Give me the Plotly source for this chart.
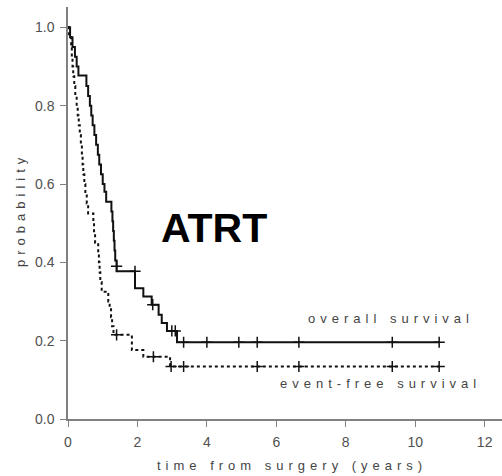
import plotly.graph_objects as go

# Overall survival (Kaplan-Meier step points)
os_time = [0, 0.06, 0.13, 0.20, 0.25, 0.30, 0.53, 0.58, 0.63, 0.67, 0.71, 0.76, 0.81, 0.86,
           0.90, 0.95, 1.00, 1.05, 1.10, 1.25, 1.28, 1.30, 1.32, 1.34, 1.36, 1.40, 1.93,
           2.17, 2.41, 2.61, 2.70, 2.85, 3.14, 10.69]
os_surv = [1.0, 0.975, 0.95, 0.925, 0.90, 0.877, 0.85, 0.825, 0.80, 0.775, 0.75, 0.725, 0.70,
           0.675, 0.65, 0.625, 0.60, 0.58, 0.555, 0.53, 0.505, 0.48, 0.455, 0.43, 0.405,
           0.377, 0.334, 0.313, 0.292, 0.266, 0.245, 0.225, 0.196, 0.196]
os_cens_time = [1.40, 1.93, 2.44, 2.99, 3.09, 3.33, 4.00, 4.92, 5.45, 6.65, 9.34, 10.69]
os_cens_surv = [0.39, 0.377, 0.292, 0.225, 0.225, 0.196, 0.196, 0.196, 0.196, 0.196, 0.196, 0.196]

# Event-free survival
efs_time = [0, 0.03, 0.09, 0.11, 0.13, 0.15, 0.18, 0.21, 0.25, 0.28, 0.31, 0.34, 0.37, 0.40,
            0.42, 0.44, 0.47, 0.50, 0.54, 0.58, 0.73, 0.75, 0.78, 0.87, 0.89, 0.91, 0.93,
            0.97, 1.16, 1.20, 1.24, 1.27, 1.31, 1.84, 2.17, 2.94, 10.69]
efs_surv = [1.0, 0.975, 0.95, 0.925, 0.90, 0.875, 0.85, 0.825, 0.80, 0.775, 0.75, 0.725,
            0.70, 0.675, 0.65, 0.625, 0.60, 0.575, 0.55, 0.525, 0.50, 0.475, 0.45, 0.425,
            0.40, 0.375, 0.35, 0.325, 0.30, 0.28, 0.26, 0.237, 0.215, 0.176, 0.159, 0.134, 0.134]
efs_cens_time = [1.40, 2.46, 2.97, 3.33, 5.45, 6.65, 9.34, 10.69]
efs_cens_surv = [0.215, 0.159, 0.134, 0.134, 0.134, 0.134, 0.134, 0.134]

x_ticks = [0, 2, 4, 6, 8, 10, 12]
y_ticks = [0.0, 0.2, 0.4, 0.6, 0.8, 1.0]
y_tick_labels = ["0.0", "0.2", "0.4", "0.6", "0.8", "1.0"]

AXIS_GRAY = "#808080"
TEXT_GRAY = "#505050"
LINE = "#111111"
SP = "letter-spacing:5px"

fig = go.Figure()
fig.add_trace(go.Scatter(x=efs_time, y=efs_surv, mode="lines", line_shape="hv",
                         line=dict(color=LINE, width=2, dash="dot"), hoverinfo="skip"))
fig.add_trace(go.Scatter(x=os_time, y=os_surv, mode="lines", line_shape="hv",
                         line=dict(color=LINE, width=2), hoverinfo="skip"))
for ct, cs in ((efs_cens_time, efs_cens_surv), (os_cens_time, os_cens_surv)):
    fig.add_trace(go.Scatter(x=ct, y=cs, mode="markers",
                             marker=dict(symbol="cross-thin-open", size=8, color=LINE,
                                         line=dict(color=LINE, width=1.5)),
                             hoverinfo="skip"))

fig.update_layout(
    width=502, height=476,
    margin=dict(l=68, r=0, t=7, b=57),
    paper_bgcolor="white", plot_bgcolor="white",
    showlegend=False,
    font=dict(family="Arial, Liberation Sans, sans-serif", color=TEXT_GRAY, size=14),
    xaxis=dict(range=[0, 12.5], tickvals=x_ticks, ticks="outside", ticklen=6,
               tickcolor=AXIS_GRAY, showline=True, linecolor=AXIS_GRAY, linewidth=1.5,
               showgrid=False, zeroline=False, ticklabelstandoff=3,
               tickfont=dict(size=14, color=TEXT_GRAY)),
    yaxis=dict(range=[0, 1.052], tickvals=y_ticks, ticktext=y_tick_labels, ticks="outside",
               ticklen=6, tickcolor=AXIS_GRAY, showline=True, linecolor=AXIS_GRAY,
               linewidth=1.5, showgrid=False, zeroline=False, ticklabelstandoff=3,
               tickfont=dict(size=14, color=TEXT_GRAY)),
)

fig.add_annotation(text="<b>ATRT</b>", x=0.336, y=0.4636, xref="paper", yref="paper",
                   showarrow=False, xanchor="center", yanchor="middle",
                   font=dict(size=41, color="#000000", family="Arial, Liberation Sans, sans-serif"))
fig.add_annotation(text=f"<span style='{SP}'>overall survival</span>", x=0.548, y=0.245,
                   xref="paper", yref="paper", showarrow=False, xanchor="left", yanchor="middle",
                   font=dict(size=13, color="#444444"))
fig.add_annotation(text=f"<span style='{SP}'>event-free survival</span>", x=0.484, y=0.085,
                   xref="paper", yref="paper", showarrow=False, xanchor="left", yanchor="middle",
                   font=dict(size=13, color="#444444"))
fig.add_annotation(text=f"<span style='{SP}'>time from surgery (years)</span>", x=0.516, y=-0.112,
                   xref="paper", yref="paper", showarrow=False, xanchor="center", yanchor="middle",
                   font=dict(size=13, color="#444444"))
fig.add_annotation(text=f"<span style='{SP}'>probability</span>", x=-0.111, y=0.507,
                   xref="paper", yref="paper", showarrow=False, xanchor="center", yanchor="middle",
                   textangle=-90, font=dict(size=13, color="#444444"))

fig.write_html("out.html", config={"displayModeBar": False},
               post_script="document.body.style.margin='0';document.body.style.padding='0';")
